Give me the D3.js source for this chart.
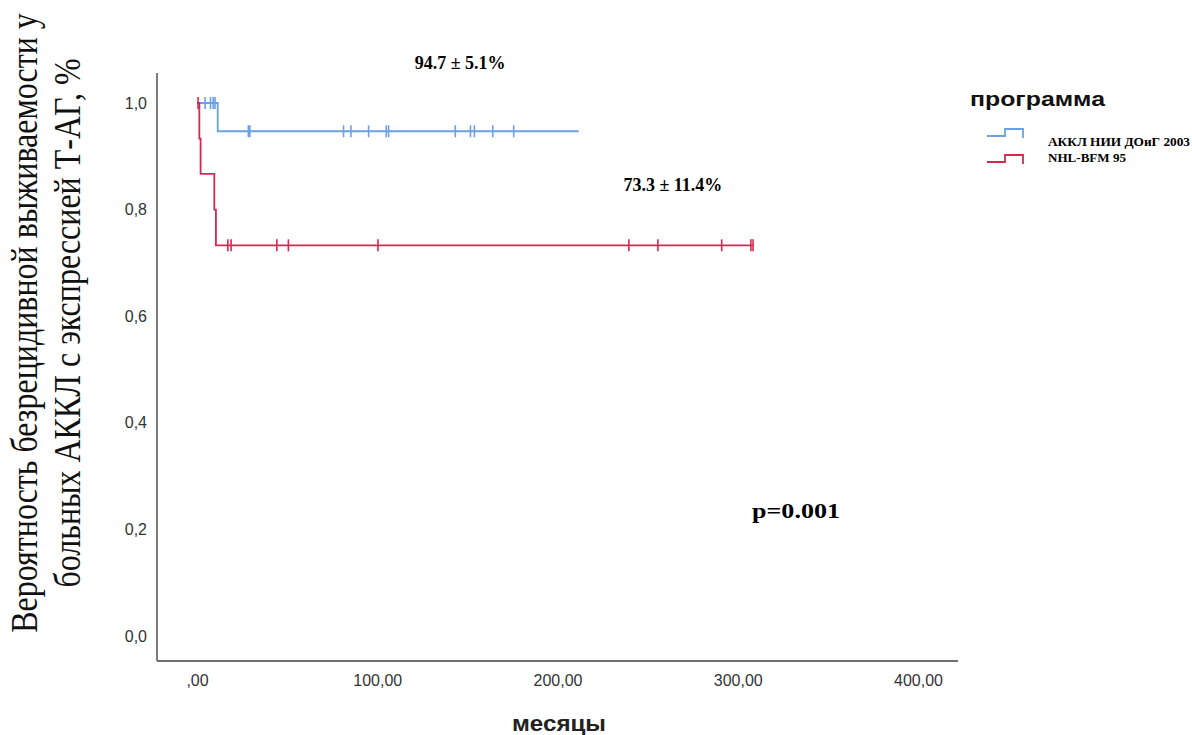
<!DOCTYPE html>
<html>
<head>
<meta charset="utf-8">
<script src="https://cdn.jsdelivr.net/npm/d3@7"></script>
<style>
  body { margin: 0; background: #fff; }
  svg { display: block; }
</style>
</head>
<body>
<svg id="chart" width="1192" height="735"></svg>
<script>
// survival steps (months, probability)
const groups = ['АККЛ НИИ ДОиГ 2003', 'NHL-BFM 95']
const colors = ['#6aa0e6', '#d6284f']

const blueTimes = [0, 11.5, 211.8]
const blueSurv = [1, 0.947, 0.947]
const blueCensor = [4.5, 7.5, 9, 10, 28.5, 29.3, 81.3, 85.4, 95.2, 105, 106.3, 143.3, 151.7, 153.9, 164.1, 175.7]

const redTimes = [0, 1.3, 2.0, 9.6, 10.5, 308.5]
const redSurv = [1, 0.933, 0.867, 0.8, 0.733, 0.733]
const redCensor = [0.6, 17.1, 18.9, 44.3, 50.7, 100.4, 239.6, 255.7, 291.1, 307.3, 308.5]

const xTicks = [0, 100, 200, 300, 400]
const yTicks = [0, 0.2, 0.4, 0.6, 0.8, 1.0]

const notes = [
  { text: '94.7 ± 5.1%', t: 146, s: 1.063 },
  { text: '73.3 ± 11.4%', t: 264, s: 0.835 }
]

let svg = d3.select('#chart')

let x = d3.scaleLinear().domain([0, 400]).range([197, 918])
let y = d3.scaleLinear().domain([0, 1]).range([636, 103])

// axis lines (SPSS frame: left + bottom)
svg.append('line')
  .attr('x1', 157).attr('x2', 157)
  .attr('y1', 73).attr('y2', 661)
  .style('stroke', '#6e6e6e').style('stroke-width', 1.8)
svg.append('line')
  .attr('x1', 157).attr('x2', 958)
  .attr('y1', 661).attr('y2', 661)
  .style('stroke', '#6e6e6e').style('stroke-width', 1.8)

let fmtY = d => d3.format('.1f')(d).replace('.', ',')
let fmtX = d => {
  let s = d3.format('.2f')(d).replace('.', ',')
  return d == 0 ? s.slice(1) : s
}

let yAxis = svg.append('g')
  .attr('transform', 'translate(157,0)')
  .call(d3.axisLeft(y).tickValues(yTicks).tickFormat(fmtY).tickSize(0).tickPadding(10))
yAxis.select('.domain').remove()
yAxis.selectAll('text')
  .style('font-family', 'Liberation Sans, Arial, sans-serif')
  .style('font-size', '16px')
  .style('fill', '#333')

let xAxis = svg.append('g')
  .attr('transform', 'translate(0,661)')
  .call(d3.axisBottom(x).tickValues(xTicks).tickFormat(fmtX).tickSize(0).tickPadding(14))
xAxis.select('.domain').remove()
xAxis.selectAll('text')
  .style('font-family', 'Liberation Sans, Arial, sans-serif')
  .style('font-size', '16px')
  .style('fill', '#333')

// step curves
let line = d3.line()
  .x(d => x(d[0]))
  .y(d => y(d[1]))
  .curve(d3.curveStepAfter)

let series = [
  { times: blueTimes, surv: blueSurv, censor: blueCensor, color: colors[0] },
  { times: redTimes, surv: redSurv, censor: redCensor, color: colors[1] }
]

function survAt(sr, t) {
  let v = sr.surv[0]
  for (let i = 0; i < sr.times.length; i++) {
    if (sr.times[i] <= t) v = sr.surv[i]
  }
  return v
}

for (let sr of series) {
  svg.append('path')
    .datum(sr.times.map((t, i) => [t, sr.surv[i]]))
    .attr('d', line)
    .style('fill', 'none')
    .style('stroke', sr.color)
    .style('stroke-width', 1.8)
  for (let c of sr.censor) {
    let cy = y(survAt(sr, c))
    svg.append('line')
      .attr('x1', x(c)).attr('x2', x(c))
      .attr('y1', cy - 6).attr('y2', cy + 6)
      .style('stroke', sr.color)
      .style('stroke-width', 1.6)
  }
}

// annotations
for (let n of notes) {
  svg.append('text')
    .attr('x', x(n.t)).attr('y', y(n.s))
    .attr('text-anchor', 'middle')
    .style('font-family', 'Liberation Serif, Times New Roman, serif')
    .style('font-weight', 'bold')
    .style('font-size', '18px')
    .text(n.text)
}

svg.append('text')
  .attr('x', 752).attr('y', 518)
  .attr('textLength', 88)
  .attr('lengthAdjust', 'spacingAndGlyphs')
  .style('font-family', 'Liberation Serif, Times New Roman, serif')
  .style('font-weight', 'bold')
  .style('font-size', '22px')
  .text('p=0.001')

// axis titles
svg.append('text')
  .attr('x', 512).attr('y', 731)
  .attr('textLength', 94)
  .attr('lengthAdjust', 'spacingAndGlyphs')
  .style('font-family', 'Liberation Sans, Arial, sans-serif')
  .style('font-weight', 'bold')
  .style('font-size', '22px')
  .style('fill', '#222')
  .text('месяцы')

// the title in the picture is a little stretched across its lines
let yTitle = svg.append('text')
  .attr('transform', 'translate(0,323) scale(1.2,1) rotate(-90)')
  .attr('text-anchor', 'middle')
  .style('font-family', 'Liberation Serif, Times New Roman, serif')
  .style('font-size', '32px')
  .style('fill', '#111')
yTitle.append('tspan').attr('x', 0).attr('y', 31)
  .text('Вероятность безрецидивной выживаемости у')
yTitle.append('tspan').attr('x', 0).attr('y', 67)
  .text('больных АККЛ с экспрессией Т-АГ, %')

// legend
svg.append('text')
  .attr('x', 970).attr('y', 106)
  .attr('textLength', 135)
  .attr('lengthAdjust', 'spacingAndGlyphs')
  .style('font-family', 'Liberation Sans, Arial, sans-serif')
  .style('font-weight', 'bold')
  .style('font-size', '20px')
  .style('fill', '#111')
  .text('программа')

let legendLens = [142, 78]
groups.forEach((g, i) => {
  let oy = 129 + i * 26
  svg.append('path')
    .attr('d', d3.line()([[987, oy + 7], [1005, oy + 7], [1005, oy], [1023, oy], [1023, oy + 9]]))
    .style('fill', 'none')
    .style('stroke', colors[i])
    .style('stroke-width', 1.8)
  svg.append('text')
    .attr('x', 1048).attr('y', 146 + i * 16)
    .attr('textLength', legendLens[i])
    .attr('lengthAdjust', 'spacingAndGlyphs')
    .style('font-family', 'Liberation Serif, Times New Roman, serif')
    .style('font-weight', 'bold')
    .style('font-size', '12px')
    .text(g)
})
</script>
</body>
</html>
